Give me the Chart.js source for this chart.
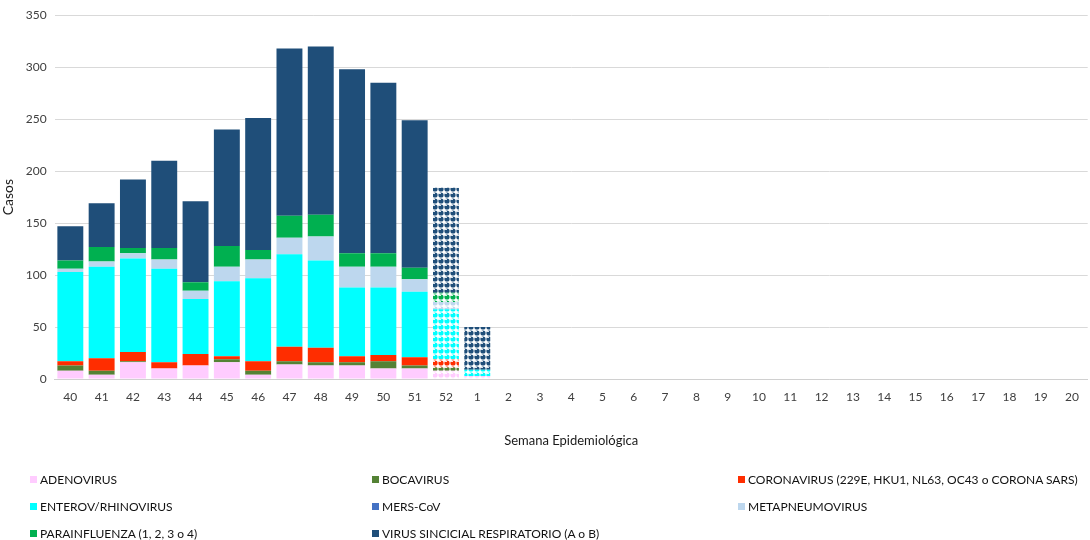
<!DOCTYPE html>
<html>
<head>
<meta charset="utf-8">
<script src="https://cdn.jsdelivr.net/npm/chart.js@4"></script>
<style>
  html, body { margin: 0; padding: 0; background: #fff; }
  #wrap { position: relative; width: 1090px; height: 540px; }
  #legend { position: absolute; left: 0; top: 470px; width: 1090px; height: 70px;
            font-family: Lato, "Open Sans", sans-serif;
            font-size: 12px; color: #111; }
  .item { position: absolute; white-space: nowrap; line-height: 16px; }
  .sw { display: inline-block; width: 7px; height: 7px; margin-right: 3px; vertical-align: 1px; }
</style>
</head>
<body>
<div id="wrap">
  <canvas id="c"></canvas>
  <div id="legend"></div>
</div>
<script>
// Semanas epidemiológicas (40-52 de un año, 1-20 del siguiente)
const weeks = ['40','41','42','43','44','45','46','47','48','49','50','51','52',
               '1','2','3','4','5','6','7','8','9','10','11','12','13','14','15','16','17','18','19','20'];

// Casos por virus y semana
const adenovirus     = [8, 4, 16, 10, 13, 16, 4, 14, 13, 13, 10, 10, 8, 3];
const bocavirus      = [5, 4, 1, 0, 0, 3, 4, 3, 3, 3, 7, 3, 3, 0];
const coronavirus    = [4, 12, 9, 6, 11, 3, 9, 14, 14, 6, 6, 8, 8, 0];
const enterovirus    = [86, 88, 90, 90, 53, 72, 80, 89, 84, 66, 65, 63, 48, 6];
const merscov        = [0, 0, 0, 0, 0, 0, 0, 0, 0, 0, 0, 0, 0, 0];
const metapneumo     = [3, 5, 5, 9, 8, 14, 18, 16, 23, 20, 20, 12, 7, 0];
const parainfluenza  = [8, 14, 5, 11, 8, 20, 9, 21, 21, 13, 13, 11, 9, 0];
const vsr            = [33, 42, 66, 84, 78, 112, 127, 161, 162, 177, 164, 142, 101, 41];

// Semanas con datos aún provisionales (se dibujan con trama)
const provisionalFrom = 12;

const series = [
  { label: 'ADENOVIRUS', data: adenovirus, color: '#ffccff' },
  { label: 'BOCAVIRUS', data: bocavirus, color: '#548235' },
  { label: 'CORONAVIRUS (229E, HKU1, NL63, OC43 o CORONA SARS)', data: coronavirus, color: '#ff2d00' },
  { label: 'ENTEROV/RHINOVIRUS', data: enterovirus, color: '#00ffff' },
  { label: 'MERS-CoV', data: merscov, color: '#4472c4' },
  { label: 'METAPNEUMOVIRUS', data: metapneumo, color: '#bdd7ee' },
  { label: 'PARAINFLUENZA (1, 2, 3 o 4)', data: parainfluenza, color: '#00b050' },
  { label: 'VIRUS SINCICIAL RESPIRATORIO (A o B)', data: vsr, color: '#1f4e79' }
];

function dotPattern(color) {
  const t = document.createElement('canvas');
  t.width = 6; t.height = 6;
  const g = t.getContext('2d');
  g.fillStyle = '#ffffff';
  g.fillRect(0, 0, 6, 6);
  g.fillStyle = color;
  g.beginPath();
  g.arc(3, 3, 2.6, 0, Math.PI * 2);
  g.fill();
  g.fillStyle = 'rgba(255,255,255,0.85)';
  g.fillRect(1, 1, 2, 1);
  return g.createPattern(t, 'repeat');
}

const FONT = 'Lato, "Open Sans", sans-serif';

const datasets = series.map(s => {
  const pat = dotPattern(s.color);
  return {
    label: s.label,
    data: s.data,
    backgroundColor: ctx => ctx.dataIndex >= provisionalFrom ? pat : s.color,
    borderWidth: 0,
    categoryPercentage: 0.9,
    barPercentage: 0.92
  };
});

new Chart(document.getElementById('c'), {
  type: 'bar',
  data: { labels: weeks, datasets },
  options: {
    responsive: true,
    maintainAspectRatio: false,
    animation: false,
    layout: { padding: { left: 0, right: 0, top: 14, bottom: 91 } },
    plugins: {
      legend: { display: false },
      tooltip: { enabled: false }
    },
    scales: {
      x: {
        stacked: true,
        grid: { display: false, drawTicks: false },
        border: { display: true, color: '#d0d0d0', width: 1 },
        ticks: { color: '#404040', font: { family: FONT, size: 12 }, padding: 11, maxRotation: 0, autoSkip: false },
        title: { display: true, text: 'Semana Epidemiológica', color: '#1a1a1a',
                 font: { family: FONT, size: 13 }, padding: { top: 18, bottom: 0 } }
      },
      y: {
        stacked: true,
        min: 0, max: 350,
        ticks: { stepSize: 50, color: '#404040', font: { family: FONT, size: 12 }, padding: 8 },
        grid: { color: '#d9d9d9', drawTicks: false },
        border: { display: false },
        title: { display: true, text: 'Casos', color: '#1a1a1a',
                 font: { family: FONT, size: 14 }, padding: { top: 0, bottom: 1 } }
      }
    }
  }
});

// Leyenda en tres columnas
const legendPos = [
  [30, 472], [372, 472], [738, 472],
  [30, 499], [372, 499], [738, 499],
  [30, 526], [372, 526]
];
const legend = document.getElementById('legend');
series.forEach((s, i) => {
  const el = document.createElement('div');
  el.className = 'item';
  el.style.left = legendPos[i][0] + 'px';
  el.style.top = (legendPos[i][1] - 470) + 'px';
  const sw = document.createElement('span');
  sw.className = 'sw';
  sw.style.background = s.color;
  el.appendChild(sw);
  el.appendChild(document.createTextNode(s.label));
  legend.appendChild(el);
});
</script>
</body>
</html>
